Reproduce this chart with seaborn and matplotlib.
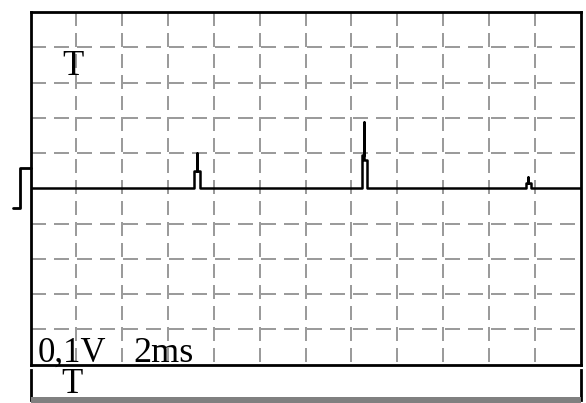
import matplotlib
matplotlib.use("Agg")
import matplotlib.pyplot as plt
import seaborn as sns
import pandas as pd

# ---- data (oscilloscope divisions) ----
x_divisions = list(range(1, 12))          # vertical grid lines
y_divisions = [-4, -3, -2, -1, 1, 2, 3, 4]  # horizontal grid lines
pulse_left = [3.56, 7.24, 10.81]
pulse_spike_x = [3.63, 7.28, 10.86]
pulse_right = [3.70, 7.34, 10.92]
pulse_height_left = [0.48, 0.93, 0.15]
pulse_height_right = [0.48, 0.79, 0.15]
spike_height = [0.99, 1.87, 0.32]
marker_x = [-0.39, -0.22, -0.22, 0.0]
marker_y = [-0.57, -0.57, 0.57, 0.57]
label_scale = "0,1V"
label_time = "2ms"
label_trigger = "T"

sns.set_style("white")
plt.rcParams["font.family"] = ["Liberation Serif", "DejaVu Serif"]
plt.rcParams["lines.scale_dashes"] = False

W, H = 586, 403
fig = plt.figure(figsize=(W / 100, H / 100), dpi=100)
ax = fig.add_axes([30.5 / W, (H - 364.5) / H, 550 / W, 352.5 / H])
ax.set_xlim(0, 12)
ax.set_ylim(-5, 5)
ax.set_xticks([])
ax.set_yticks([])
for s in ax.spines.values():
    s.set_color("black")
    s.set_linewidth(2.0)

grid_col = "#8c8c8c"
pt = 72 / 100  # px -> pt
for yv in y_divisions:
    ax.plot([0, 12], [yv, yv], color=grid_col, lw=1.25,
            dashes=(15 * pt, 8 * pt), zorder=1)
for xv in x_divisions:
    ax.plot([xv, xv], [5, -5], color=grid_col, lw=1.25,
            dashes=(14 * pt, 7 * pt), zorder=1)

# build the trace polyline from pulse data
tx, ty = [0.0], [0.0]
for xl, xs, xr, hl, hr, sp in zip(pulse_left, pulse_spike_x, pulse_right,
                                  pulse_height_left, pulse_height_right, spike_height):
    tx += [xl, xl, xs, xs, xs, xr, xr]
    ty += [0, hl, hl, sp, hr, hr, 0]
tx.append(12.0)
ty.append(0.0)
trace = pd.DataFrame({"t": tx, "v": ty})
sns.lineplot(data=trace, x="t", y="v", sort=False, estimator=None,
             color="black", lw=1.8, ax=ax, zorder=3)
ax.set_xlabel("")
ax.set_ylabel("")

mk = pd.DataFrame({"t": marker_x, "v": marker_y})
sns.lineplot(data=mk, x="t", y="v", sort=False, estimator=None,
             color="black", lw=2.0, ax=ax, clip_on=False, zorder=3)
ax.set_xlabel("")
ax.set_ylabel("")

fs = 25
ax.text((73 - 30.5) / 45.83, 5 - (75 - 12) / 35.25, label_trigger,
        fontsize=fs, ha="center", va="baseline", color="black", zorder=4)
ax.text((38 - 30.5) / 45.83, 5 - (362 - 12) / 35.25, label_scale,
        fontsize=fs, ha="left", va="baseline", color="black", zorder=4)
ax.text((133 - 30.5) / 45.83, 5 - (362 - 12) / 35.25, label_time,
        fontsize=fs + 1, ha="left", va="baseline", color="black", zorder=4)

# bottom strip
ax2 = fig.add_axes([30.5 / W, 3 / H, 550 / W, 30 / H])
ax2.set_xlim(0, 12)
ax2.set_ylim(0, 1)
ax2.set_xticks([])
ax2.set_yticks([])
ax2.patch.set_alpha(0)
ax2.spines["top"].set_visible(False)
for side in ("left", "right"):
    ax2.spines[side].set_color("black")
    ax2.spines[side].set_linewidth(2.0)
ax2.spines["bottom"].set_color("#808080")
ax2.spines["bottom"].set_linewidth(6 * pt)
ax2.spines["bottom"].set_capstyle("butt")
ax2.text((72 - 30.5) / 45.83, (400 - 393) / 30, label_trigger,
         fontsize=fs, ha="center", va="baseline", color="black")

fig.savefig("out.png", dpi=100)
